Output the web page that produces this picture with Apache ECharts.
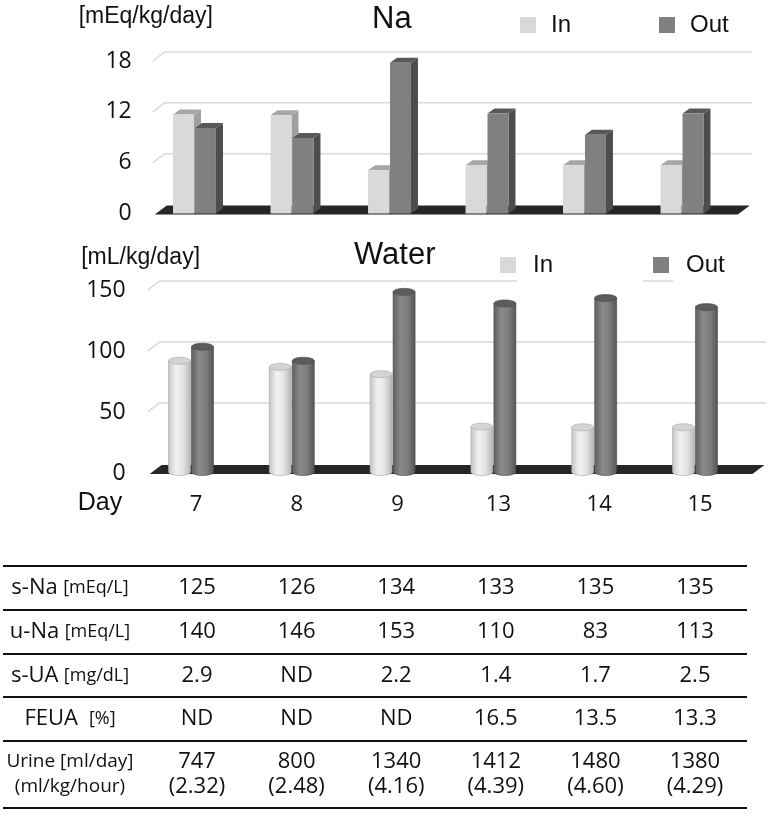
<!DOCTYPE html>
<html>
<head>
<meta charset="utf-8">
<title>Na / Water</title>
<script src="https://cdn.jsdelivr.net/npm/echarts@6/dist/echarts.min.js"></script>
<style>
  html, body { margin: 0; padding: 0; background: #fff; }
  #main { width: 768px; height: 817px; }
</style>
</head>
<body>
<div id="main"></div>
<script>
// 数据
var days = ['7', '8', '9', '13', '14', '15'];
var naIn = [11.7, 11.6, 5.1, 5.7, 5.7, 5.7];
var naOut = [10.1, 8.9, 17.8, 11.8, 9.3, 11.8];
var waterIn = [92, 87, 81, 38, 37.5, 37.5];
var waterOut = [103.5, 92, 148.5, 139, 143.5, 136];
var naTicks = [6, 12, 18];
var waterTicks = [50, 100, 150];

// 表格
var sNa = [125, 126, 134, 133, 135, 135];
var uNa = [140, 146, 153, 110, 83, 113];
var sUA = [2.9, null, 2.2, 1.4, 1.7, 2.5];
var feua = [null, null, null, 16.5, 13.5, 13.3];
var urineDay = [747, 800, 1340, 1412, 1480, 1380];
var urineRate = [2.32, 2.48, 4.16, 4.39, 4.60, 4.29];

var DX = 12, DY = -9;     // 背景墙的纵深
var BDX = 7, BDY = -5;    // 柱子的纵深
var RY = 3.5;             // 圆柱顶部椭圆

var numFont = 'Open Sans';
var txtFont = 'Liberation Sans';

function pairs(arr) {
    return arr.map(function (v, i) { return [i, v]; });
}

// 网格线（透视）
function wallItem(params, api) {
    var cs = params.coordSys;
    var y = api.coord([0, api.value(1)])[1];
    var x0 = cs.x + 7;
    return {
        type: 'polyline',
        shape: { points: [[x0, y], [x0 + DX, y + DY], [cs.x + cs.width + 21, y + DY]] },
        style: { stroke: '#d9d9d9', lineWidth: 1.5, fill: null }
    };
}

// 地板
function floorItem(params, api) {
    var cs = params.coordSys;
    var y0 = api.coord([0, 0])[1];
    var xl = cs.x + 9, xr = cs.x + cs.width + 7;
    return {
        type: 'polygon',
        shape: { points: [[xl, y0 + 1], [xl + DX, y0 + DY + 1], [xr + DX, y0 + DY + 1], [xr, y0 + 1]] },
        style: { fill: '#262626' }
    };
}

function boxItem(side, c) {
    return function (params, api) {
        var i = api.value(0);
        var top = api.coord([i, api.value(1)]);
        var base = api.coord([i, 0]);
        var w = api.size([1, 0])[0] * 0.215;
        var x1 = side === 'in' ? top[0] - w - 0.5 : top[0] + 0.5;
        var x2 = x1 + w;
        var yt = top[1], yb = base[1];
        return {
            type: 'group',
            children: [
                { type: 'polygon', shape: { points: [[x2, yb], [x2 + BDX, yb + BDY], [x2 + BDX, yt + BDY], [x2, yt]] }, style: { fill: c.side } },
                { type: 'polygon', shape: { points: [[x1, yt], [x1 + BDX, yt + BDY], [x2 + BDX, yt + BDY], [x2, yt]] }, style: { fill: c.top } },
                { type: 'rect', shape: { x: x1, y: yt, width: w, height: yb - yt }, style: { fill: c.front } }
            ]
        };
    };
}

function ellipsePts(cx, cy, rx, ry, a0, a1, n) {
    var pts = [];
    for (var k = 0; k <= n; k++) {
        var a = a0 + (a1 - a0) * k / n;
        pts.push([cx + rx * Math.cos(a), cy + ry * Math.sin(a)]);
    }
    return pts;
}

function cylItem(side, c) {
    return function (params, api) {
        var i = api.value(0);
        var top = api.coord([i, api.value(1)]);
        var base = api.coord([i, 0]);
        var r = api.size([1, 0])[0] * 0.218 / 2;
        var cx = side === 'in' ? top[0] - r - 0.5 : top[0] + r + 0.5;
        var yt = top[1], yb = base[1] - 1;
        var body = [[cx - r, yt]].concat(ellipsePts(cx, yb, r, RY, Math.PI, 0, 16));
        body.push([cx + r, yt]);
        return {
            type: 'group',
            children: [
                {
                    type: 'polygon', shape: { points: body },
                    style: {
                        fill: new echarts.graphic.LinearGradient(0, 0, 1, 0, c.body),
                        stroke: c.edge, lineWidth: 0.6
                    }
                },
                {
                    type: 'polygon', shape: { points: ellipsePts(cx, yt, r, RY, 0, Math.PI * 2, 32) },
                    style: { fill: c.top, stroke: c.edge, lineWidth: 0.6 }
                }
            ]
        };
    };
}

var inBox = { front: '#d9d9d9', top: '#a6a6a6', side: '#a0a0a0' };
var outBox = { front: '#808080', top: '#595959', side: '#4d4d4d' };
var inCyl = {
    body: [{ offset: 0, color: '#c4c4c4' }, { offset: 0.35, color: '#f2f2f2' }, { offset: 0.65, color: '#e4e4e4' }, { offset: 1, color: '#b4b4b4' }],
    top: '#d4d4d4', edge: '#a8a8a8'
};
var outCyl = {
    body: [{ offset: 0, color: '#5f5f5f' }, { offset: 0.35, color: '#8a8a8a' }, { offset: 0.65, color: '#7e7e7e' }, { offset: 1, color: '#555555' }],
    top: '#5c5c5c', edge: '#464646'
};

// 表格
function fmt(v, d) { return v == null ? 'ND' : v.toFixed(d); }
var tableRows = [
    { label: '{a|s-Na} {b|[mEq/L]}', cells: sNa.map(function (v) { return fmt(v, 0); }) },
    { label: '{a|u-Na} {b|[mEq/L]}', cells: uNa.map(function (v) { return fmt(v, 0); }) },
    { label: '{a|s-UA} {b|[mg/dL]}', cells: sUA.map(function (v) { return fmt(v, 1); }) },
    { label: '{a|FEUA}  {b|[%]}', cells: feua.map(function (v) { return fmt(v, 1); }) },
    {
        label: '{c|Urine [ml/day]}\n{c|(ml/kg/hour)}',
        cells: urineDay.map(function (v, i) { return v + '\n(' + urineRate[i].toFixed(2) + ')'; })
    }
];
var rowLines = [566, 610, 654, 697, 741, 808];
var colX0 = 197, colStep = 99.6, labelX = 70;

var graphics = [];
rowLines.forEach(function (y) {
    graphics.push({ type: 'line', shape: { x1: 3, y1: y, x2: 747, y2: y }, style: { stroke: '#111', lineWidth: 2.2 } });
});
tableRows.forEach(function (row, r) {
    var yc = (rowLines[r] + rowLines[r + 1]) / 2;
    graphics.push({
        type: 'text', x: labelX, y: yc,
        style: {
            text: row.label, align: 'center', verticalAlign: 'middle', fill: '#111',
            fontFamily: numFont, fontSize: 21, lineHeight: 25,
            rich: {
                a: { fontFamily: numFont, fontSize: 22, lineHeight: 25, fill: '#111' },
                b: { fontFamily: numFont, fontSize: 18, lineHeight: 25, fill: '#111' },
                c: { fontFamily: numFont, fontSize: 19, lineHeight: 25, fill: '#111' }
            }
        }
    });
    row.cells.forEach(function (t, c) {
        graphics.push({
            type: 'text', x: colX0 + c * colStep, y: yc,
            style: {
                text: t, align: 'center', verticalAlign: 'middle', fill: '#111',
                fontFamily: numFont, fontSize: 22, lineHeight: 25
            }
        });
    });
});
// "Day"
graphics.push({
    type: 'text', x: 100, y: 503,
    style: { text: 'Day', align: 'center', verticalAlign: 'middle', fill: '#111', fontFamily: txtFont, fontSize: 25 }
});
// Water 图例遮挡网格线
graphics.push({ type: 'rect', z: 3, shape: { x: 517, y: 244, width: 126, height: 40 }, style: { fill: '#fff' } });
graphics.push({ type: 'rect', z: 3, shape: { x: 673, y: 244, width: 95, height: 40 }, style: { fill: '#fff' } });

var legendBase = {
    data: ['In', 'Out'], icon: 'rect', itemWidth: 16, itemHeight: 16, selectedMode: false,
    textStyle: { fontFamily: txtFont, fontSize: 24, color: '#111', padding: [0, 0, 0, 10] }
};

var yAxisBase = {
    type: 'value', axisLine: { show: false }, axisTick: { show: false }, splitLine: { show: false },
    axisLabel: { fontFamily: numFont, fontSize: 23, color: '#111' },
    nameLocation: 'end',
    nameTextStyle: { fontFamily: txtFont, fontSize: 23, color: '#111', align: 'center' }
};

var myChart = echarts.init(document.getElementById('main'));
var option = {
    animation: false,
    backgroundColor: '#fff',
    title: [
        { text: 'Na', left: 372, top: 4, padding: 0, textStyle: { fontFamily: txtFont, fontSize: 31, fontWeight: 'normal', color: '#111' } },
        { text: 'Water', left: 354, top: 240, padding: 0, textStyle: { fontFamily: txtFont, fontSize: 31, fontWeight: 'normal', color: '#111' } }
    ],
    legend: [
        echarts.util.merge({ left: 515, top: 8, itemGap: 88 }, legendBase, true),
        echarts.util.merge({ left: 495, top: 248, itemGap: 100, textStyle: { padding: [0, 0, 0, 12] } }, legendBase, false)
    ],
    grid: [
        { left: 145.75, right: 37.25, top: 61, height: 152.5 },
        { left: 140.6, right: 22.6, top: 290, height: 183 }
    ],
    xAxis: [
        { type: 'category', gridIndex: 0, data: days, show: false },
        {
            type: 'category', gridIndex: 1, data: days,
            axisLine: { show: false }, axisTick: { show: false },
            axisLabel: { fontFamily: numFont, fontSize: 22, color: '#111', margin: 21, padding: [0, 0, 0, 10] }
        }
    ],
    yAxis: [
        echarts.util.merge({ gridIndex: 0, min: 0, max: 18, interval: 6, name: '[mEq/kg/day]', nameGap: 33, axisLabel: { margin: 14 } }, yAxisBase, false),
        echarts.util.merge({ gridIndex: 1, min: 0, max: 150, interval: 50, name: '[mL/kg/day]', nameGap: 21, axisLabel: { margin: 15 } }, yAxisBase, false)
    ],
    series: [
        { type: 'custom', xAxisIndex: 0, yAxisIndex: 0, z: 1, silent: true, renderItem: wallItem, data: naTicks.map(function (v) { return [0, v]; }), encode: { x: 0, y: 1 } },
        { type: 'custom', xAxisIndex: 0, yAxisIndex: 0, z: 2, silent: true, renderItem: floorItem, data: [[0, 0]], encode: { x: 0, y: 1 } },
        { name: 'In', type: 'custom', xAxisIndex: 0, yAxisIndex: 0, z: 3, itemStyle: { color: '#d9d9d9' }, renderItem: boxItem('in', inBox), data: pairs(naIn), encode: { x: 0, y: 1 } },
        { name: 'Out', type: 'custom', xAxisIndex: 0, yAxisIndex: 0, z: 4, itemStyle: { color: '#808080' }, renderItem: boxItem('out', outBox), data: pairs(naOut), encode: { x: 0, y: 1 } },

        { type: 'custom', xAxisIndex: 1, yAxisIndex: 1, z: 1, silent: true, renderItem: wallItem, data: waterTicks.map(function (v) { return [0, v]; }), encode: { x: 0, y: 1 } },
        { type: 'custom', xAxisIndex: 1, yAxisIndex: 1, z: 2, silent: true, renderItem: floorItem, data: [[0, 0]], encode: { x: 0, y: 1 } },
        { name: 'In', type: 'custom', xAxisIndex: 1, yAxisIndex: 1, z: 3, itemStyle: { color: '#d9d9d9' }, renderItem: cylItem('in', inCyl), data: pairs(waterIn), encode: { x: 0, y: 1 } },
        { name: 'Out', type: 'custom', xAxisIndex: 1, yAxisIndex: 1, z: 4, itemStyle: { color: '#808080' }, renderItem: cylItem('out', outCyl), data: pairs(waterOut), encode: { x: 0, y: 1 } }
    ],
    graphic: { elements: graphics }
};
myChart.setOption(option);
window.addEventListener('resize', function () {
    myChart.resize();
});
</script>
</body>
</html>
